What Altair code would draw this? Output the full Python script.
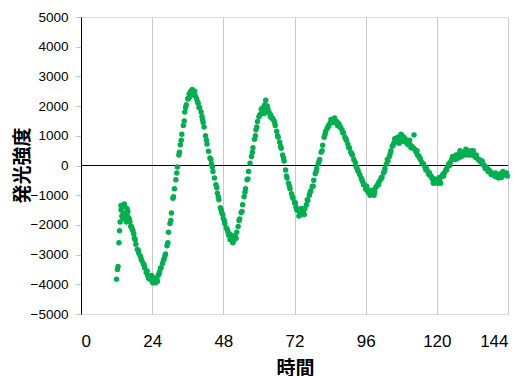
import altair as alt
import pandas as pd

# Main series: luminescence intensity sampled every 0.5 h from t = 12 h
start_time = 12.0
step = 0.5
intensity = [
    -3830, -3400, -2200, -1500, -1400, -1350, -1600, -1450, -1750, -1900,
    -2050, -2200, -2450, -2650, -2830, -2950, -3050, -3200, -3300, -3450,
    -3600, -3700, -3800, -3850, -3780, -3900, -3880, -3850, -3700, -3580,
    -3450, -3300, -3150, -2980, -2700, -2250, -1950, -1600, -1100, -780,
    -480, -50, 350, 700, 1050, 1350, 1800, 2050, 2250, 2400,
    2500, 2560, 2450, 2350, 2250, 2100, 1950, 1800, 1550, 1300,
    1000, 720, 480, 250, 50, -200, -420, -650, -930, -1150,
    -1420, -1600, -1780, -1950, -2100, -2220, -2300, -2420, -2480, -2530,
    -2400, -2250, -2050, -1800, -1580, -1320, -1050, -780, -480, -200,
    80, 300, 600, 880, 1200, 1480, 1640, 1720, 1850, 1950,
    2050, 1980, 1850, 1780, 1700, 1600, 1520, 1350, 1150, 950,
    780, 580, 350, 150, -150, -420, -600, -780, -950, -1100,
    -1250, -1400, -1480, -1550, -1650, -1600, -1550, -1450, -1320, -1180,
    -1000, -850, -700, -500, -280, -100, 50, 200, 450, 680,
    950, 1150, 1250, 1350, 1420, 1480, 1550, 1600, 1500, 1450,
    1400, 1300, 1200, 1100, 950, 850, 720, 600, 450, 350,
    200, 100, -50, -200, -300, -420, -550, -650, -800, -780,
    -850, -900, -950, -880, -800, -720, -650, -550, -480, -400,
    -250, -100, 50, 150, 300, 500, 650, 750, 850, 800,
    880, 950, 900, 820, 850, 780, 800, 750, 700, 650,
    600, 550, 450, 350, 300, 200, 100, 50, -50, -100,
    -200, -250, -350, -450, -550, -580, -500, -520, -450, -380,
    -300, -250, -150, -50, 50, 100, 200, 250, 300, 350,
    320, 380, 420, 400, 450, 430, 470, 500, 450, 420,
    380, 330, 280, 250, 200, 150, 100, 50, 0, -50,
    -100, -150, -200, -250, -300, -350, -380, -300, -350, -280,
    -320, -260, -300, -250,
]

# Extra scattered readings (spread of the band)
extra_time = [12.3, 12.8, 13.2, 13.8, 14.2, 14.8, 15.3, 15.8, 16.3, 16.8, 17.8, 19.3,
              21.3, 23.8, 24.2, 25.2, 26.8, 29.3, 31.2, 33.2, 34.8, 36.2,
              36.8, 37.8, 39.8, 41.2, 43.8, 45.8, 47.8, 49.8, 51.2, 52.3,
              54.3, 56.3, 58.8, 60.3, 61.3, 62.3, 63.0, 64.3, 66.3, 68.3,
              70.3, 72.3, 73.5, 74.8, 76.3, 78.3, 80.3, 82.3, 84.8, 86.5,
              88.3, 90.3, 92.8, 95.3, 97.5, 99.0, 101.3, 103.3, 105.3, 106.3,
              107.9, 108.8, 110.3, 112.3, 114.3, 116.3, 118.3, 119.8, 121.3,
              123.3, 125.3, 127.3, 128.3, 130.5, 132.3, 134.3, 136.3, 138.3,
              139.3, 141.8, 143.3]
extra_value = [-3500, -2600, -1900, -1700, -1650, -1800, -1900, -1550, -1800, -2050, -2300, -2850,
               -3350, -3700, -3950, -3950, -3450, -2600, -1050, 450, 1500, 2250,
               2450, 2380, 1950, 1450, 200, -750, -1650, -2350, -2600, -2450,
               -1550, -450, 1000, 1700, 1800, 2200, 1900, 1600, 1000, 250,
               -700, -1250, -1700, -1500, -1150, -700, 150, 1050, 1450, 1350,
               1100, 600, -50, -650, -1000, -900, -400, 200, 700, 850,
               1050, 950, 700, 1030, 250, -150, -400, -480, -600,
               -150, 300, 250, 300, 350, 500, 200, -100, -300,
               -280, -400, -330]

more_time = [13.5, 14.0, 14.6, 15.6, 17.3, 18.3, 20.3, 22.3, 22.8, 23.3, 24.8, 25.8,
             26.3, 27.8, 28.3, 30.3, 32.3, 33.8, 35.3, 36.6, 37.3, 38.3, 39.3, 40.8,
             42.3, 44.3, 46.3, 47.3, 48.3, 49.3, 50.3, 50.8, 51.8, 53.3, 55.3, 57.8,
             59.3, 60.8, 61.8, 62.8, 63.8, 65.3, 67.3, 69.3, 71.3, 72.8, 73.8, 74.3,
             75.3, 77.3, 79.3, 81.3, 83.3, 84.3, 85.3, 85.8, 87.3, 89.3, 91.3, 93.3,
             94.8, 96.3, 96.8, 97.8, 98.8, 100.3, 102.3, 104.3, 105.8, 106.8, 107.3,
             108.3, 109.3, 110.8, 111.3, 113.3, 115.3, 117.3, 118.8, 119.3, 120.3,
             120.8, 122.3, 124.3, 126.3, 127.8, 129.3, 129.8, 131.3, 131.8, 133.3,
             135.3, 137.3, 139.8, 140.8, 142.3, 143.8]
more_value = [-1350, -1750, -1300, -1700, -2150, -2500, -3150, -3550, -3800, -3750, -3800, -3900,
              -3650, -3200, -3050, -1850, -250, 850, 1950, 2300, 2450, 2500, 2150, 1650,
              850, -50, -1050, -1500, -1850, -2150, -2500, -2350, -2450, -1850, -900, 450,
              1300, 1900, 1750, 2000, 1650, 1450, 650, -350, -1050, -1500, -1550, -1450,
              -1650, -900, -200, 500, 1300, 1550, 1450, 1500, 1300, 900, 400, -150,
              -500, -700, -900, -850, -1000, -650, -200, 400, 900, 950, 750,
              1000, 900, 850, 600, 500, 50, -300, -600, -450, -600,
              -400, -350, 0, 200, 500, 350, 550, 350, 500, 350,
              150, -200, -250, -420, -200, -350]

times = [start_time + step * i for i in range(len(intensity))]
df = pd.DataFrame({
    "t": times + extra_time + more_time,
    "v": intensity + extra_value + more_value,
})

x_ticks = [0, 24, 48, 72, 96, 120, 144]
y_ticks = [-5000, -4000, -3000, -2000, -1000, 0, 1000, 2000, 3000, 4000, 5000]

x_enc = alt.X(
    "t:Q",
    scale=alt.Scale(domain=[0, 144], nice=False),
    axis=alt.Axis(
        values=x_ticks, format="d", labelOverlap=False, title="時間", grid=True,
        gridColor="#c8c8c8", gridWidth=1,
        domain=False, ticks=False, labelFontSize=17, labelFont="Liberation Sans",
        labelColor="#000000", labelPadding=19,
        titleFont="Noto Sans CJK JP", titleFontSize=19, titleFontWeight="bold",
        titleColor="#000000", titleX=214, titleY=45, titleBaseline="top",
        titleAlign="center",
    ),
)
y_axis = alt.Axis(
    values=y_ticks, format="d", labelOverlap=False, title="発光強度", grid=False,
    domain=True, domainColor="#000000",
    domainWidth=1, ticks=True, tickColor="#bfbfbf", tickSize=5,
    labelFontSize=13.5, labelFont="Liberation Sans", labelColor="#000000",
    labelPadding=8, titleFont="Noto Sans CJK JP", titleFontSize=19,
    titleFontWeight="bold", titleColor="#000000", titleAngle=270,
    titleX=-49, titleY=148, titleBaseline="bottom", titleAlign="center",
)
y_scale = alt.Scale(domain=[-5000, 5000], nice=False)

zero_line = alt.Chart(pd.DataFrame({"v": [0]})).mark_rule(
    color="#000000", strokeWidth=1.2
).encode(y=alt.Y("v:Q", scale=y_scale, axis=y_axis))

points = alt.Chart(df).mark_circle(
    color="#00B050", size=30, opacity=1
).encode(x=x_enc, y=alt.Y("v:Q", scale=y_scale, axis=y_axis))

chart = alt.layer(zero_line, points).properties(
    width=427, height=297,
    padding={"left": 5, "top": 2, "right": 5, "bottom": 0},
).configure_view(stroke=None).configure(background="white")

chart.save("out.html", embed_options={"renderer": "svg", "actions": False})
